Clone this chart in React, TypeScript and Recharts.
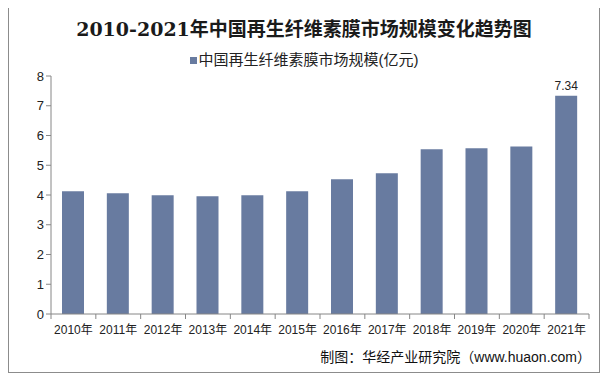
import React from 'react';
import { BarChart, Bar, XAxis, YAxis, LabelList } from 'recharts';

const years = ['2010年', '2011年', '2012年', '2013年', '2014年', '2015年', '2016年', '2017年', '2018年', '2019年', '2020年', '2021年'];
const marketSize = [4.13, 4.06, 3.99, 3.96, 3.99, 4.13, 4.53, 4.73, 5.54, 5.57, 5.63, 7.34];
const yTicks = [0, 1, 2, 3, 4, 5, 6, 7, 8];

const BAR = '#687BA0';
const AXIS = '#868686';
const FONT = '"Liberation Sans", Arial, "Noto Sans CJK SC", sans-serif';

const data = years.map((y, i) => ({ year: y, value: marketSize[i] }));

// Excel-style tick marks sit between categories, not under them
function YearTick(props: any) {
  const { x, y, payload, index } = props;
  const half = payload.offset || 0;
  const top = y - 8;
  return (
    <g>
      <line x1={x - half} x2={x - half} y1={top} y2={top + 5} stroke={AXIS} />
      {index === years.length - 1 && <line x1={x + half} x2={x + half} y1={top} y2={top + 5} stroke={AXIS} />}
      <text x={x} y={y + 3} dy="0.71em" textAnchor="middle" fontSize={12} fill="#222" fontFamily={FONT}>{payload.value}</text>
    </g>
  );
}

export default function App() {
  return (
    <div style={{ position: 'relative', marginTop: -5, width: 590, height: 368, border: '1px solid #8c8c8c', fontFamily: FONT }}>
      <BarChart width={590} height={368} data={data} margin={{ top: 72, right: 10, bottom: 28, left: 0 }} barSize={22}>
        <XAxis dataKey="year" interval={0} stroke={AXIS} tickLine={false} tick={<YearTick />} height={30} />
        <YAxis domain={[0, 8]} ticks={yTicks} width={42} stroke={AXIS} tickSize={5} tick={{ fontSize: 13, fill: '#222', fontFamily: FONT }} />
        <Bar dataKey="value" fill={BAR} isAnimationActive={false}>
          <LabelList dataKey="value" position="top" offset={6} formatter={(v: number) => (v === 7.34 ? '7.34' : '')} style={{ fontSize: 12, fill: '#222', fontFamily: FONT }} />
        </Bar>
      </BarChart>
      <div style={{ position: 'absolute', left: 0, top: 10, width: '100%', textAlign: 'center', fontSize: 19, fontWeight: 'bold', fontFamily: '"DejaVu Serif", "Liberation Serif", "Noto Sans CJK SC", serif', color: '#1a1a1a' }}>
        2010-2021年中国再生纤维素膜市场规模变化趋势图
      </div>
      <div style={{ position: 'absolute', left: 0, top: 44, width: '100%', textAlign: 'center', fontSize: 15, color: '#222' }}>
        <span style={{ display: 'inline-block', width: 7, height: 7, background: BAR, marginRight: 2, verticalAlign: 'middle', position: 'relative', top: -1 }} />
        中国再生纤维素膜市场规模(亿元)
      </div>
      <div style={{ position: 'absolute', right: 8, top: 342, fontSize: 14, color: '#111' }}>
        制图：华经产业研究院（www.huaon.com）
      </div>
    </div>
  );
}
